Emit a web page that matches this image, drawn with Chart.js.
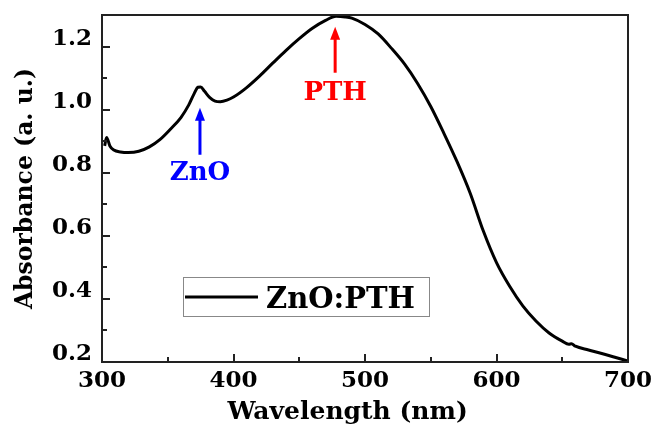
<!DOCTYPE html>
<html>
<head>
<meta charset="utf-8">
<script src="https://cdn.jsdelivr.net/npm/chart.js@4"></script>
<style>
  html, body { margin: 0; padding: 0; background: #fff; }
  #wrap { width: 653px; height: 426px; }
</style>
</head>
<body>
<div id="wrap"><canvas id="uvvis"></canvas></div>
<script>
// UV-vis absorbance of the ZnO:PTH film
const wavelength = [302, 303.5, 306, 309, 314, 320, 328, 336, 344, 352, 360, 366, 370, 373, 375, 378, 382, 386, 390, 395,
  400, 410, 420, 430, 440, 450, 460, 470, 478, 485, 490, 500, 510, 520, 530, 540, 550, 560, 570, 580,
  590, 600, 610, 620, 630, 640, 650, 655, 657, 660, 670, 680, 690, 700];
const absorbance = [0.885, 0.912, 0.885, 0.872, 0.866, 0.864, 0.868, 0.882, 0.905, 0.938, 0.975, 1.015, 1.050, 1.071, 1.072, 1.058, 1.038, 1.027, 1.025, 1.030,
  1.040, 1.070, 1.107, 1.148, 1.188, 1.225, 1.258, 1.283, 1.296, 1.294, 1.290, 1.270, 1.240, 1.195, 1.145, 1.083, 1.010, 0.925, 0.835, 0.735,
  0.615, 0.515, 0.440, 0.378, 0.330, 0.292, 0.266, 0.256, 0.258, 0.250, 0.238, 0.227, 0.215, 0.203];
const seriesName = 'ZnO:PTH';

// peak markers: label, wavelength, arrow tail / tip and label baseline (absorbance)
const markerLabels = ['ZnO', 'PTH'];
const markerX = [374.5, 477.3];
const markerTail = [0.857, 1.117];
const markerTip = [1.006, 1.263];
const markerText = [0.778, 1.032];
const markerColors = ['#0000ff', '#ff0000'];

const serif = "'DejaVu Serif', serif";

const frameAndTicks = {
  id: 'frameAndTicks',
  afterDatasetsDraw(chart) {
    const { ctx, chartArea: a, scales: { x, y } } = chart;
    ctx.save();
    ctx.strokeStyle = '#222';
    ctx.lineWidth = 2;
    ctx.strokeRect(a.left, a.top, a.right - a.left, a.bottom - a.top);
    ctx.beginPath();
    x.ticks.forEach(t => {
      const px = Math.round(x.getPixelForValue(t.value));
      const len = t.value % 100 === 0 ? 8 : 5;
      ctx.moveTo(px, a.bottom);
      ctx.lineTo(px, a.bottom - len);
    });
    y.ticks.forEach(t => {
      const py = Math.round(y.getPixelForValue(t.value));
      const len = Math.round(t.value * 10) % 2 === 0 ? 8 : 5;
      ctx.moveTo(a.left, py);
      ctx.lineTo(a.left + len, py);
    });
    ctx.stroke();
    ctx.restore();
  }
};

const markers = {
  id: 'markers',
  afterDatasetsDraw(chart) {
    const { ctx, scales: { x, y } } = chart;
    ctx.save();
    markerLabels.forEach((lab, i) => {
      const px = x.getPixelForValue(markerX[i]);
      const y0 = y.getPixelForValue(markerTail[i]);
      const y1 = y.getPixelForValue(markerTip[i]);
      ctx.strokeStyle = markerColors[i];
      ctx.fillStyle = markerColors[i];
      ctx.lineWidth = 3;
      ctx.beginPath();
      ctx.moveTo(px, y0);
      ctx.lineTo(px, y1 + 10);
      ctx.stroke();
      ctx.beginPath();
      ctx.moveTo(px, y1);
      ctx.lineTo(px - 5, y1 + 13);
      ctx.lineTo(px + 5, y1 + 13);
      ctx.closePath();
      ctx.fill();
      ctx.font = "bold 26px " + serif;
      ctx.textAlign = 'center';
      ctx.textBaseline = 'alphabetic';
      ctx.fillText(lab, px, y.getPixelForValue(markerText[i]));
    });
    ctx.restore();
  }
};

const boxLegend = {
  id: 'boxLegend',
  afterDraw(chart) {
    const { ctx, chartArea: a } = chart;
    const ds = chart.data.datasets[0];
    const bx = a.left + 81, by = a.top + 262, bw = 246, bh = 39;
    ctx.save();
    ctx.fillStyle = '#fff';
    ctx.fillRect(bx, by, bw, bh);
    ctx.strokeStyle = '#888';
    ctx.lineWidth = 1;
    ctx.strokeRect(bx + 0.5, by + 0.5, bw, bh);
    ctx.strokeStyle = ds.borderColor;
    ctx.lineWidth = 3;
    ctx.beginPath();
    ctx.moveTo(bx + 2, by + 20);
    ctx.lineTo(bx + 75, by + 20);
    ctx.stroke();
    ctx.fillStyle = '#000';
    ctx.font = "bold 29px " + serif;
    ctx.textBaseline = 'alphabetic';
    ctx.fillText(ds.label, bx + 83, by + 31);
    ctx.restore();
  }
};

// invisible tick marks keep the label gap without widening the side padding
const hiddenGrid = len => ({
  display: true,
  drawOnChartArea: false,
  drawTicks: true,
  tickLength: len,
  color: 'rgba(0,0,0,0)'
});

new Chart(document.getElementById('uvvis'), {
  type: 'line',
  data: {
    datasets: [{
      label: seriesName,
      data: wavelength.map((w, i) => ({ x: w, y: absorbance[i] })),
      borderColor: '#000',
      borderWidth: 3,
      pointRadius: 0,
      cubicInterpolationMode: 'monotone',
      fill: false
    }]
  },
  options: {
    responsive: true,
    maintainAspectRatio: false,
    animation: false,
    layout: { padding: { top: 15, right: 25, left: 0, bottom: 0 } },
    plugins: {
      legend: { display: false },
      tooltip: { enabled: false }
    },
    scales: {
      x: {
        type: 'linear',
        min: 300,
        max: 700,
        grid: hiddenGrid(8),
        border: { display: false },
        afterFit(s) { s.height = 64; },
        ticks: {
          stepSize: 50,
          autoSkip: false,
          maxRotation: 0,
          padding: 0,
          color: '#000',
          font: { family: serif, weight: 'bold', size: 23, lineHeight: 1 },
          callback: v => (v % 100 === 0 ? String(v) : '')
        },
        title: {
          display: true,
          text: 'Wavelength (nm)\u00a0\u00a0\u00a0\u00a0',
          color: '#000',
          font: { family: serif, weight: 'bold', size: 25, lineHeight: 1 },
          padding: { top: 0, bottom: 1 }
        }
      },
      y: {
        min: 0.2,
        max: 1.3,
        grid: hiddenGrid(10),
        border: { display: false },
        afterFit(s) { s.width = 102; },
        ticks: {
          stepSize: 0.1,
          autoSkip: false,
          padding: 0,
          labelOffset: -8,
          color: '#000',
          font: { family: serif, weight: 'bold', size: 23, lineHeight: 1 },
          callback: v => (Math.round(v * 10) % 2 === 0 ? v.toFixed(1) : '')
        },
        title: {
          display: true,
          text: 'Absorbance (a. u.)',
          color: '#000',
          font: { family: serif, weight: 'bold', size: 23.5, lineHeight: 1.2 },
          padding: { top: 12, bottom: 0 }
        }
      }
    }
  },
  plugins: [frameAndTicks, markers, boxLegend]
});
</script>
</body>
</html>
